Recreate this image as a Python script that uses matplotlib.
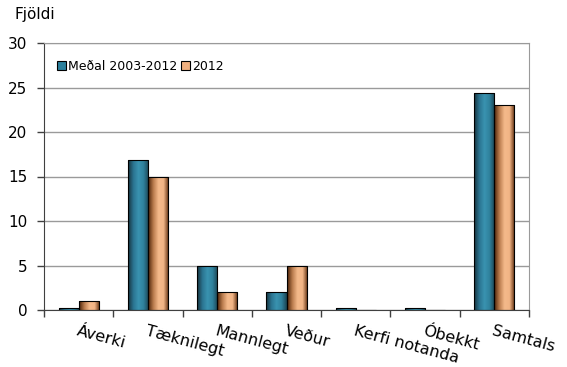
import numpy as np
import matplotlib.pyplot as plt
from matplotlib.colors import LinearSegmentedColormap
from matplotlib.patches import Patch

flokkar = ['Áverki', 'Tæknilegt', 'Mannlegt', 'Veður', 'Kerfi notanda', 'Óbekkt', 'Samtals']
medal = [0.2, 16.9, 4.9, 2.0, 0.2, 0.2, 24.4]
ar_2012 = [1, 15, 2, 5, 0, 0, 23]

plt.rcParams['font.family'] = 'DejaVu Sans'

fig = plt.figure(figsize=(5.67, 3.67), dpi=100)
ax = fig.add_axes([44 / 567, 1 - 310 / 367, 485 / 567, 267 / 367])

# litir med skuggun yfir sulurnar
blar = LinearSegmentedColormap.from_list('blar', ['#17323c', '#2a7390', '#3a93b0', '#2f819c', '#1c4452'])
appels = LinearSegmentedColormap.from_list('appels', ['#4a2208', '#b87a4c', '#f4b98a', '#f2b586', '#5c2d0e'])
grad = np.linspace(0, 1, 64).reshape(1, -1)

x = np.arange(len(flokkar))
w = 0.29
for xs, vals, cmap in [(x - w / 2, medal, blar), (x + w / 2, ar_2012, appels)]:
    bars = ax.bar(xs, vals, w, color='none', edgecolor='black', linewidth=0.8, zorder=3)
    for b in bars:
        h = b.get_height()
        if h <= 0:
            continue
        x0 = b.get_x()
        im = ax.imshow(grad, cmap=cmap, aspect='auto', extent=(x0, x0 + w, 0, h),
                       zorder=2, interpolation='bilinear')
        im.set_clip_path(b)

ax.set_xlim(-0.5, len(flokkar) - 0.5)
ax.set_ylim(0, 30)
ax.set_yticks(range(0, 31, 5))
ax.yaxis.grid(True, color='#9a9a9a', linewidth=1)
ax.set_axisbelow(True)

ax.set_xticks(np.arange(len(flokkar) + 1) - 0.5)
ax.set_xticklabels([])
ax.tick_params(axis='x', length=5, color='#404040', width=1)
ax.tick_params(axis='y', length=5, color='#404040', width=1, labelsize=11, pad=7)

for s in ['top', 'right']:
    ax.spines[s].set_color('#9a9a9a')
for s in ['left', 'bottom']:
    ax.spines[s].set_color('#404040')

for i, f in enumerate(flokkar):
    ax.text(i, -1.5, f, rotation=-15, rotation_mode='anchor', ha='left', va='top',
            fontsize=11.5, color='black')

fig.text(15 / 567, 1 - 15 / 367, 'Fjöldi', fontsize=11, va='center')

handles = [Patch(facecolor='#2a7f9c', edgecolor='black', linewidth=0.8),
           Patch(facecolor='#f0b080', edgecolor='black', linewidth=0.8)]
ax.legend(handles, ['Meðal 2003-2012', '2012'], loc='upper left', bbox_to_anchor=(0.016, 0.955),
          ncol=2, frameon=False, fontsize=9, handlelength=0.7, handleheight=0.7,
          handletextpad=0.2, columnspacing=0.3, borderaxespad=0)

fig.savefig('out.png', dpi=100)
